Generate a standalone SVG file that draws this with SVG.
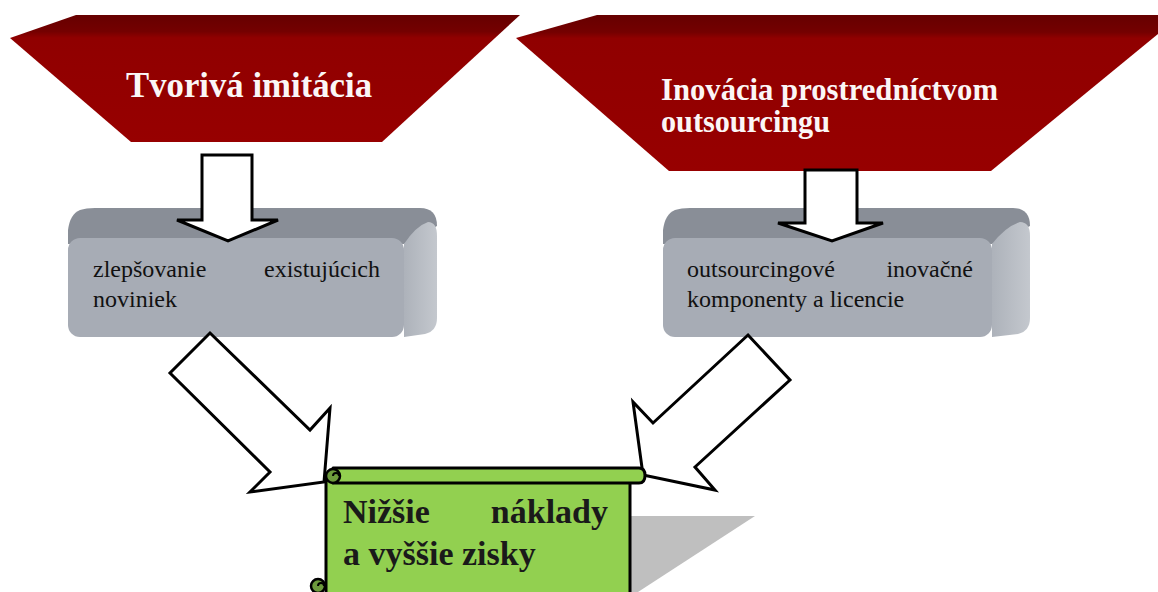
<svg xmlns="http://www.w3.org/2000/svg" width="1158" height="592" viewBox="0 0 1158 592">
<style>
.title{font-family:"Liberation Serif","Times New Roman",serif;font-weight:bold;fill:#fbf6f6}
.box{font-family:"Liberation Serif","Times New Roman",serif;font-size:24px;fill:#111}
.res{font-family:"Liberation Serif","Times New Roman",serif;font-weight:bold;font-size:34px;fill:#1a1a1a}
.arrow{fill:#fff;stroke:#000;stroke-width:3;stroke-linejoin:miter}
.top{fill:#898e97}
.front{fill:#a7acb5}
.scroll{fill:#92d050;stroke:#000;stroke-width:3;stroke-linejoin:round}
.curl{fill:#6d9a3c;stroke:#000;stroke-width:2.5}
</style>
<defs>
<linearGradient id="redL" x1="0" y1="15" x2="0" y2="142" gradientUnits="userSpaceOnUse">
<stop offset="0" stop-color="#660000"/><stop offset="0.13" stop-color="#740000"/><stop offset="0.18" stop-color="#900000"/><stop offset="1" stop-color="#970000"/>
</linearGradient>
<linearGradient id="redR" x1="0" y1="15" x2="0" y2="171" gradientUnits="userSpaceOnUse">
<stop offset="0" stop-color="#660000"/><stop offset="0.11" stop-color="#740000"/><stop offset="0.15" stop-color="#900000"/><stop offset="1" stop-color="#970000"/>
</linearGradient>
<linearGradient id="side" x1="0" y1="0" x2="1" y2="0">
<stop offset="0" stop-color="#adb2ba"/><stop offset="1" stop-color="#c4c8ce"/>
</linearGradient>
</defs>

<g id="node-tvoriva">
<polygon points="76,15 520,15 382,142 131,142 10,38" fill="url(#redL)"/>
<text class="title" x="126" y="97" font-size="36" textLength="246" lengthAdjust="spacingAndGlyphs">Tvorivá imitácia</text>
</g>

<g id="node-inovacia">
<polygon points="597,15 1158,15 1158,34 991,171 669,171 516,38" fill="url(#redR)"/>
<text class="title" x="661" y="100" font-size="31" textLength="337" lengthAdjust="spacingAndGlyphs">Inovácia prostredníctvom</text>
<text class="title" x="661" y="132" font-size="31" textLength="169" lengthAdjust="spacingAndGlyphs">outsourcingu</text>
</g>

<g id="node-zlepsovanie">
<path class="top" d="M95,208 L420,208 Q437,208 437,226 L404,244 L68,244 L68,230 Q70,214 80,210 Q86,208 95,208 Z"/>
<path d="M404,244 Q416,226 428,222 Q437,222 437,236 L437,318 Q437,331 425,334 L404,337 Z" fill="url(#side)"/>
<rect class="front" x="68" y="238" width="336" height="99" rx="12"/>
<text class="box" x="93" y="277">zlepšovanie</text>
<text class="box" x="380" y="277" text-anchor="end">existujúcich</text>
<text class="box" x="93" y="307">noviniek</text>
</g>

<g id="node-outsourcing">
<path class="top" d="M690,208 L1013,208 Q1030,208 1030,226 L992,244 L663,244 L663,230 Q665,214 675,210 Q681,208 690,208 Z"/>
<path d="M992,244 Q1006,226 1020,222 Q1030,222 1030,236 L1030,318 Q1030,331 1018,334 L992,337 Z" fill="url(#side)"/>
<rect class="front" x="663" y="238" width="329" height="99" rx="12"/>
<text class="box" x="687" y="277">outsourcingové</text>
<text class="box" x="973" y="277" text-anchor="end">inovačné</text>
<text class="box" x="687" y="307">komponenty a licencie</text>
</g>

<g id="connectors">
<polygon class="arrow" points="202,155 252,155 252,220 278,220 228,241 177,220 202,220"/>
<polygon class="arrow" points="805,170 857,170 857,223 883,223 832,241 778,223 805,223"/>
<polygon class="arrow" points="210,333 310,430 330,408 324,482 250,492 270,472 170,373"/>
<polygon class="arrow" points="748,335 790,380 695,467 715,490 643,475 633,402 653,423"/>
</g>

<g id="node-result">
<polygon points="628,516 755,516 638,592 628,592" fill="#bfbfbf"/>
<path class="scroll" d="M326,478 L630,478 L630,596 L326,596 Z"/>
<path class="scroll" d="M333,468 L639,468 Q645,468 645,475.5 Q645,483 639,483 L333,483 Z"/>
<circle class="curl" cx="333" cy="476" r="7"/>
<path d="M333,476 a3,3 0 0 1 6,0" fill="none" stroke="#000" stroke-width="2"/>
<circle class="curl" cx="318" cy="586" r="7"/>
<path d="M318,586 a3,3 0 0 1 6,0" fill="none" stroke="#000" stroke-width="2"/>
<text class="res" x="343" y="523">Nižšie</text>
<text class="res" x="608" y="523" text-anchor="end">náklady</text>
<text class="res" x="343" y="565">a vyššie zisky</text>
</g>
</svg>
